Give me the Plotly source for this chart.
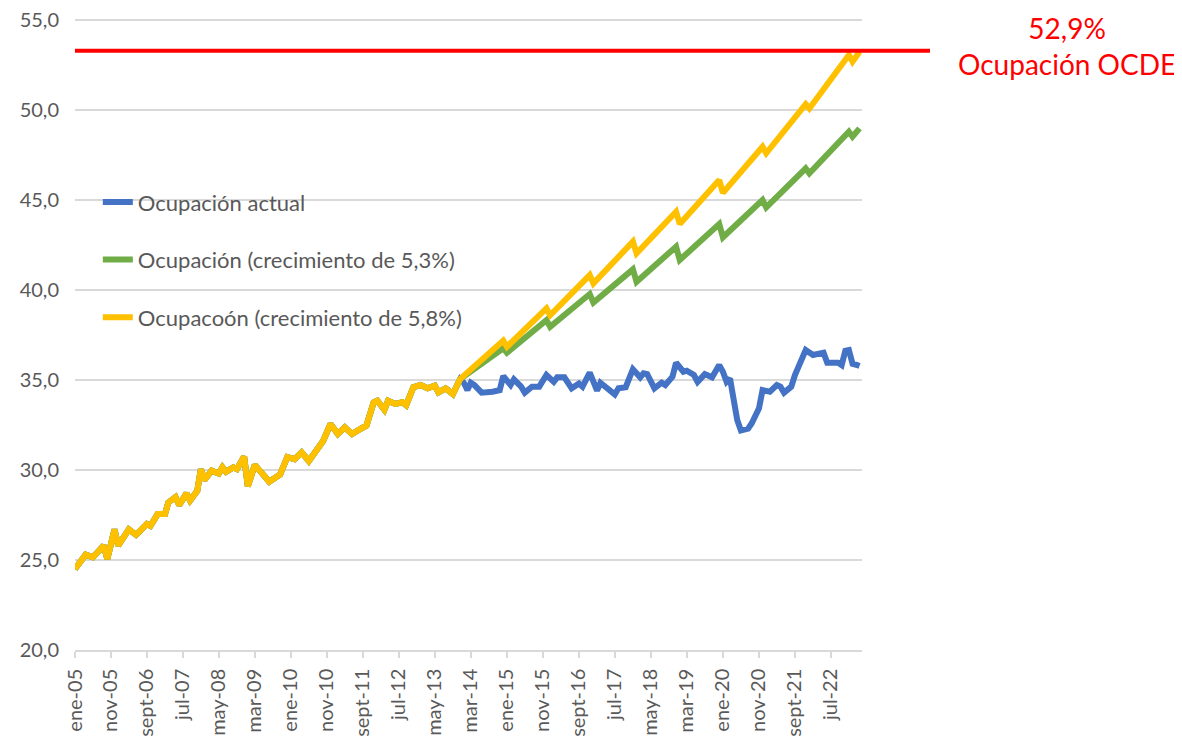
import plotly.graph_objects as go

# ---- data ----
actual_dates = [
    "2005-01", "2005-04", "2005-06", "2005-09", "2005-10", "2005-12", "2006-01", "2006-04",
    "2006-06", "2006-09", "2006-10", "2006-12", "2007-02", "2007-03", "2007-05", "2007-06",
    "2007-08", "2007-09", "2007-11", "2007-12", "2008-01", "2008-03", "2008-05", "2008-06",
    "2008-07", "2008-09", "2008-10", "2008-12", "2009-01", "2009-03", "2009-04", "2009-07",
    "2009-10", "2009-12", "2010-02", "2010-04", "2010-06", "2010-09", "2010-10", "2010-12",
    "2011-02", "2011-04", "2011-06", "2011-08", "2011-10", "2011-12", "2012-01", "2012-03",
    "2012-04", "2012-06", "2012-08", "2012-09", "2012-11", "2013-01", "2013-03", "2013-05",
    "2013-06", "2013-08", "2013-10", "2013-12",
    "2014-01", "2014-02", "2014-03", "2014-04", "2014-06", "2014-09", "2014-11", "2014-12",
    "2015-02", "2015-03", "2015-05", "2015-06", "2015-08", "2015-10", "2015-12", "2016-02",
    "2016-03", "2016-05", "2016-07", "2016-09", "2016-10", "2016-12", "2017-02", "2017-03",
    "2017-05", "2017-07", "2017-08", "2017-10", "2017-12", "2018-02", "2018-03", "2018-04",
    "2018-06", "2018-08", "2018-09", "2018-11", "2018-12", "2019-02", "2019-03", "2019-05",
    "2019-06", "2019-08", "2019-10", "2019-12", "2020-01", "2020-02", "2020-03", "2020-04",
    "2020-05", "2020-06", "2020-08", "2020-09", "2020-11", "2020-12", "2021-02", "2021-04",
    "2021-05", "2021-06", "2021-08", "2021-09", "2021-10", "2021-12", "2022-02", "2022-05",
    "2022-06", "2022-08", "2022-09", "2022-10", "2022-11", "2022-12", "2023-01", "2023-02",
    "2023-03",
]
actual_values = [
    24.5, 25.3, 25.15, 25.8, 25.05, 26.7, 25.8, 26.7,
    26.4, 27.0, 26.9, 27.55, 27.55, 28.2, 28.5, 28.05,
    28.7, 28.3, 28.85, 30.05, 29.45, 29.96, 29.8, 30.15,
    29.9, 30.15, 30.05, 30.75, 29.1, 30.28, 30.05, 29.35,
    29.75, 30.72, 30.6, 30.98, 30.5, 31.44, 31.63, 32.56,
    32.0, 32.37, 32.0, 32.24, 32.46, 33.76, 33.85, 33.35,
    33.85, 33.67, 33.76, 33.6, 34.6, 34.72, 34.54, 34.69,
    34.31, 34.54, 34.22, 35.05,
    34.85, 34.44, 34.85, 34.72, 34.3, 34.35, 34.44, 35.22,
    34.72, 35.04, 34.63, 34.3, 34.63, 34.63, 35.28, 34.9,
    35.15, 35.15, 34.54, 34.81, 34.63, 35.41, 34.41, 34.85,
    34.48, 34.2, 34.54, 34.6, 35.6, 35.15, 35.37, 35.33,
    34.54, 34.85, 34.72, 35.19, 35.96, 35.46, 35.52, 35.28,
    34.9, 35.33, 35.15, 35.83, 35.46, 34.9, 35.09, 34.07,
    32.78, 32.2, 32.3, 32.6, 33.43, 34.44, 34.35, 34.72,
    34.63, 34.3, 34.63, 35.28, 35.74, 36.67, 36.39, 36.52,
    35.96, 35.93, 35.96, 35.83, 36.63, 36.67, 35.9, 35.85,
    35.78,
]
history_end = "2013-12"  # last shared month before the projections

proj_dates = [
    "2014-12", "2015-01", "2015-12", "2016-01", "2016-12", "2017-01", "2017-12", "2018-01",
    "2018-12", "2019-01", "2019-12", "2020-01", "2020-12", "2021-01", "2021-12", "2022-01",
    "2022-12", "2023-01", "2023-03",
]
green_values = [
    36.76, 36.52, 38.33, 37.96, 39.78, 39.3, 41.15, 40.46,
    42.41, 41.67, 43.67, 42.93, 45.0, 44.59, 46.76, 46.48,
    48.8, 48.52, 48.98,
]
yellow_values = [
    37.19, 36.85, 38.98, 38.6, 40.83, 40.37, 42.69, 42.04,
    44.35, 43.67, 46.11, 45.4, 47.96, 47.6, 50.33, 50.09,
    53.06, 52.69, 53.24,
]

series_names = [
    "Ocupación actual",
    "Ocupación (crecimiento de 5,3%)",
    "Ocupacoón (crecimiento de 5,8%)",
]
series_colors = ["#4472C4", "#70AD47", "#FFC000"]

tick_dates = [
    "2005-01", "2005-11", "2006-09", "2007-07", "2008-05", "2009-03", "2010-01", "2010-11",
    "2011-09", "2012-07", "2013-05", "2014-03", "2015-01", "2015-11", "2016-09", "2017-07",
    "2018-05", "2019-03", "2020-01", "2020-11", "2021-09", "2022-07",
]
tick_labels = [
    "ene-05", "nov-05", "sept-06", "jul-07", "may-08", "mar-09", "ene-10", "nov-10",
    "sept-11", "jul-12", "may-13", "mar-14", "ene-15", "nov-15", "sept-16", "jul-17",
    "may-18", "mar-19", "ene-20", "nov-20", "sept-21", "jul-22",
]
y_ticks = [20, 25, 30, 35, 40, 45, 50, 55]

oecd_line_value = 53.3
oecd_label = "52,9%<br>Ocupación OCDE"

# ---- build ----
k = actual_dates.index(history_end) + 1
hist_dates = actual_dates[:k]
hist_values = actual_values[:k]

GRAY_TXT = "#595959"
FONT = "Lato"
LW = 6

fig = go.Figure()
fig.add_trace(go.Scatter(x=actual_dates, y=actual_values, mode="lines",
                         name=series_names[0], legendgroup="a",
                         line=dict(color=series_colors[0], width=LW)))
fig.add_trace(go.Scatter(x=hist_dates + proj_dates, y=hist_values + green_values, mode="lines",
                         name=series_names[1], legendgroup="b",
                         line=dict(color=series_colors[1], width=LW)))
fig.add_trace(go.Scatter(x=hist_dates + proj_dates, y=hist_values + yellow_values, mode="lines",
                         name=series_names[2], legendgroup="c",
                         line=dict(color=series_colors[2], width=LW)))

fig.add_shape(type="line", xref="paper", yref="y", x0=0, x1=1.0864,
              y0=oecd_line_value, y1=oecd_line_value,
              line=dict(color="#FF0000", width=4))

fig.add_annotation(text=oecd_label, xref="paper", yref="paper", x=1.2605, y=0.957,
                   xanchor="center", yanchor="middle", showarrow=False, align="center",
                   font=dict(family=FONT, size=28, color="#FF0000"))

fig.update_layout(
    width=1182, height=740,
    margin=dict(l=67, r=328, t=11, b=98),
    paper_bgcolor="white", plot_bgcolor="white",
    separators=",.",
    font=dict(family=FONT, color=GRAY_TXT),
    showlegend=True,
    legend=dict(x=0.029, y=0.743, xanchor="left", yanchor="top",
                bgcolor="rgba(0,0,0,0)", tracegroupgap=26,
                font=dict(family=FONT, size=22, color=GRAY_TXT)),
)
fig.update_xaxes(type="date", range=["2005-01-01", "2023-03-22"], automargin=False,
                 tickmode="array", tickvals=tick_dates, ticktext=tick_labels,
                 tickangle=-90, tickfont=dict(family=FONT, size=20, color=GRAY_TXT),
                 ticks="outside", ticklen=6, tickcolor="#D9D9D9", tickwidth=1.5,
                 ticklabelstandoff=3, ticklabeloverflow="allow",
                 showgrid=False, showline=True, linecolor="#D9D9D9", linewidth=1.5)
fig.update_yaxes(range=[20, 55.06], tickmode="array", tickvals=y_ticks,
                 tickformat=".1f", automargin=False, ticklabeloverflow="allow",
                 tickfont=dict(family=FONT, size=20, color=GRAY_TXT),
                 showgrid=True, gridcolor="#D9D9D9", gridwidth=1.5,
                 zeroline=False, showline=False, ticklabelstandoff=15)

fig.write_html("out.html")
